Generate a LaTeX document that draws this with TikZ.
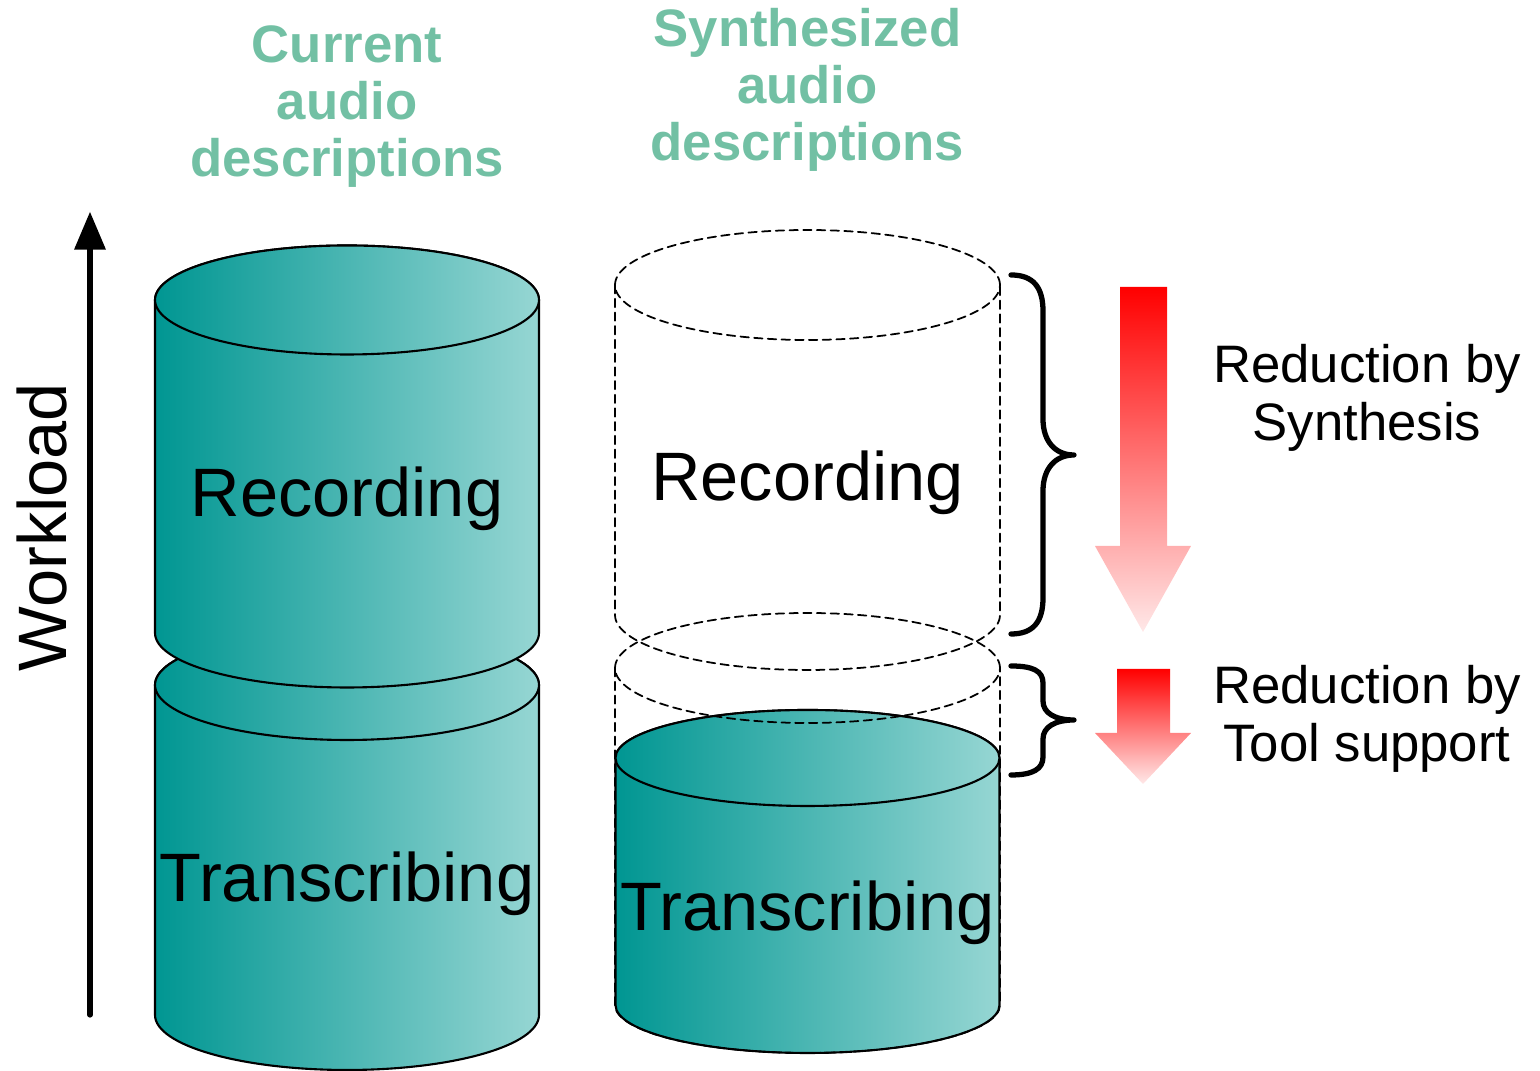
\documentclass[tikz,border=0pt]{standalone}
\usepackage{fontspec}
\setmainfont{Liberation Sans}
\usetikzlibrary{arrows}
\definecolor{tealdark}{RGB}{0,150,146}
\definecolor{teallight}{RGB}{150,214,211}
\definecolor{mint}{RGB}{114,192,164}
\definecolor{pinkpale}{RGB}{255,232,232}
% solid cylinder: centre x, top y, bottom y, y radius
\newcommand{\drum}[4]{%
  \path[cylfill] ({#1-1.92},#2) -- ({#1-1.92},#3)
    arc[start angle=180,end angle=360,x radius=1.92,y radius=#4]
    -- ({#1+1.92},#2)
    arc[start angle=0,end angle=180,x radius=1.92,y radius=#4] -- cycle;
  \path[cylfill] (#1,#2) ellipse [x radius=1.92,y radius=#4];}
\tikzset{
  cylfill/.style={left color=tealdark,right color=teallight,draw=black,line width=0.6pt},
  ghost/.style={line width=0.5pt,dash pattern=on 2.4pt off 1.5pt},
  bigtxt/.style={font=\fontsize{19.5}{23}\selectfont,inner sep=0pt},
  headtxt/.style={font=\fontsize{15}{16.2}\selectfont\bfseries,text=mint,align=center,inner sep=0pt},
  notetxt/.style={font=\fontsize{15}{16.4}\selectfont,align=center,inner sep=0pt},
  cut/.style={top color=red,bottom color=pinkpale,draw=none},
  brace/.style={line width=1.5pt,line cap=round}
}
\begin{document}
\begin{tikzpicture}[line cap=round,line join=round,>=triangle 45,x=1.0cm,y=1.0cm]
  \useasboundingbox (0,0) rectangle (15.4,10.71);
  % current descriptions
  \drum{3.47}{3.86}{0.56}{0.55}
  \drum{3.47}{7.71}{4.38}{0.545}
  % synthesized descriptions
  \drum{8.075}{3.13}{0.66}{0.48}
  \draw[ghost] (8.075,7.86) ellipse [x radius=1.925,y radius=0.55];
  \draw[ghost] (6.15,7.86) -- (6.15,4.56) arc[start angle=180,end angle=360,x radius=1.925,y radius=0.55] -- (10.0,7.86);
  \draw[ghost] (8.075,4.03) ellipse [x radius=1.925,y radius=0.55];
  \draw[ghost] (6.15,4.03) -- (6.15,0.66) arc[start angle=180,end angle=360,x radius=1.925,y radius=0.48] -- (10.0,4.03);
  % labels
  \node[bigtxt,anchor=base] (recL) at (3.47,5.54) {Recording};
  \node[bigtxt,anchor=base] (trL) at (3.47,1.69) {Transcribing};
  \node[bigtxt,anchor=base] (recR) at (8.075,5.70) {Recording};
  \node[bigtxt,anchor=base] (trR) at (8.075,1.40) {Transcribing};
  \node[headtxt] (curT) at (3.47,9.64) {Current\\audio\\descriptions};
  \node[headtxt] (synT) at (8.075,9.81) {Synthesized\\audio\\descriptions};
  % workload axis
  \coordinate (wlo) at (0.90,0.56);
  \coordinate (whi) at (0.90,8.59);
  \draw[->,line width=1.5pt] (wlo) -- (whi);
  \node[bigtxt,rotate=90,anchor=base] (wl) at (0.66,5.44) {Workload};
  % braces
  \draw[brace] (10.11,7.96) .. controls (10.33,7.96) and (10.43,7.84) .. (10.43,7.60) -- (10.43,6.52)
    .. controls (10.43,6.30) and (10.55,6.16) .. (10.74,6.16)
    .. controls (10.55,6.16) and (10.43,6.02) .. (10.43,5.80) -- (10.43,4.73)
    .. controls (10.43,4.49) and (10.33,4.37) .. (10.11,4.37);
  \draw[brace] (10.11,4.05) .. controls (10.33,4.05) and (10.43,4.00) .. (10.43,3.88) -- (10.43,3.70)
    .. controls (10.43,3.58) and (10.55,3.51) .. (10.74,3.51)
    .. controls (10.55,3.51) and (10.43,3.44) .. (10.43,3.32) -- (10.43,3.14)
    .. controls (10.43,3.02) and (10.33,2.96) .. (10.11,2.96);
  % reduction arrows
  \path[cut] (11.20,7.84) -- (11.67,7.84) -- (11.67,5.25) -- (11.91,5.25) -- (11.43,4.39)
    -- (10.95,5.25) -- (11.20,5.25) -- cycle;
  \path[cut] (11.17,4.02) -- (11.70,4.02) -- (11.70,3.38) -- (11.91,3.38) -- (11.43,2.87)
    -- (10.95,3.38) -- (11.17,3.38) -- cycle;
  \node[notetxt] (redS) at (13.67,6.73) {Reduction by\\Synthesis};
  \node[notetxt] (redT) at (13.67,3.52) {Reduction by\\Tool support};
\end{tikzpicture}
\end{document}
